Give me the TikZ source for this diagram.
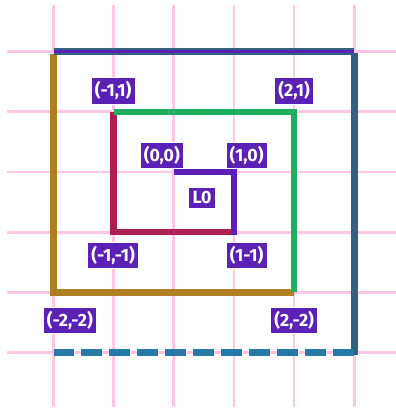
\documentclass[tikz,border=0pt]{standalone}
\usepackage{fontspec}
\setmainfont{Fira Sans}
\usepackage{tikz}
\usetikzlibrary{positioning}
\definecolor{GPink}{HTML}{FFC6E6}
\definecolor{LGold}{HTML}{B07F22}
\definecolor{LGreen}{HTML}{21AE5E}
\definecolor{LCrimson}{HTML}{AE1F51}
\definecolor{LPurple}{HTML}{5B21B6}
\definecolor{LSlate}{HTML}{33607F}
\definecolor{LBlue}{HTML}{2479A8}

\begin{document}
\begin{tikzpicture}[
  gridline/.style={GPink,line width=1.3pt},
  seg/.style={line width=3.1pt},
  lbl/.style={fill=LPurple,draw=white,line width=0.3pt,text=white,
    font=\fontsize{8.4}{9}\selectfont\bfseries,inner sep=1.8pt}
]
  \useasboundingbox (-2.89,-3.99) rectangle (3.69,2.86);
  % grid
  \foreach \x in {-2,...,3}
    {\draw[gridline] (\x,-3.9) -- (\x,2.78);}
  \foreach \y in {-3,...,2}
    {\draw[gridline] (-2.77,\y) -- (3.69,\y);}
  % corner points
  \coordinate (tl) at (-2,2);
  \coordinate (tr) at (3,2);
  \coordinate (br) at (3,-3);
  \coordinate (bl) at (-2,-3);
  \coordinate (a) at (-1,1);
  \coordinate (b) at (2,1);
  \coordinate (c) at (0,0);
  \coordinate (d) at (1,0);
  \coordinate (e) at (-1,-1);
  \coordinate (f) at (1,-1);
  \coordinate (g) at (-2,-2);
  \coordinate (h) at (2,-2);
  % segments
  \draw[seg,LGold] ([yshift=-0.03cm]tl) -- (g) -- (h);
  \draw[seg,LSlate] (tl) -- (tr);
  \draw[line width=1.3pt,LPurple] (tl) -- (tr);
  \draw[seg,LSlate] ([yshift=-0.02cm]tr) -- ([yshift=-0.05cm]br);
  \draw[seg,LCrimson] (a) -- (e) -- (f);
  \draw[seg,LGreen] (a) -- (b) -- (h);
  \draw[seg,LPurple] (c) -- (d) -- ([yshift=-0.05cm]f);
  \draw[seg,LBlue,dash pattern=on 0.35cm off 0.116cm] (br) -- (bl);
  % labels
  \node[lbl] (la) at (-1.01,1.35) {(-1,1)};
  \node[lbl] (lb) at (2.0,1.35) {(2,1)};
  \node[lbl] (lc) at (-0.2,0.28) {(0,0)};
  \node[lbl] (ld) at (1.21,0.28) {(1,0)};
  \node[lbl] (le) at (-1.01,-1.38) {(-1,-1)};
  \node[lbl] (lf) at (1.21,-1.38) {(1-1)};
  \node[lbl] (lg) at (-1.73,-2.46) {(-2,-2)};
  \node[lbl] (lh) at (2.0,-2.46) {(2,-2)};
  \node[lbl] (l0) at (0.47,-0.43) {L0};
\end{tikzpicture}
\end{document}
